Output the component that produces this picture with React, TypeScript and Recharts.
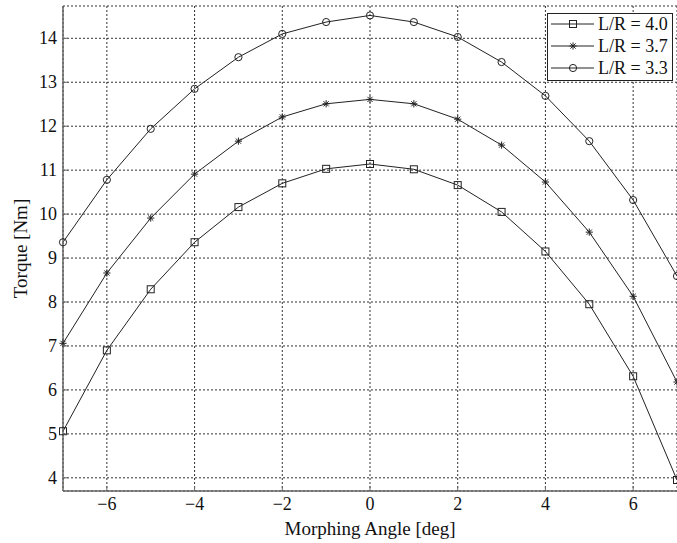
import React from 'react';
import { LineChart, Line, XAxis, YAxis, CartesianGrid, Legend, Label } from 'recharts';

// Morphing angle in degrees
const angles = [-7, -6, -5, -4, -3, -2, -1, 0, 1, 2, 3, 4, 5, 6, 7];

// Torque [Nm] for each length/radius ratio
const torqueLR40 = [5.06, 6.9, 8.29, 9.36, 10.16, 10.7, 11.03, 11.14, 11.02, 10.66, 10.05, 9.15, 7.95, 6.31, 3.95];
const torqueLR37 = [7.06, 8.66, 9.91, 10.91, 11.66, 12.21, 12.51, 12.61, 12.51, 12.16, 11.57, 10.73, 9.59, 8.13, 6.18];
const torqueLR33 = [9.36, 10.78, 11.94, 12.85, 13.57, 14.1, 14.37, 14.52, 14.37, 14.03, 13.46, 12.69, 11.66, 10.32, 8.59];

const xTicks = [-6, -4, -2, 0, 2, 4, 6];
const yTicks = [4, 5, 6, 7, 8, 9, 10, 11, 12, 13, 14];

const seriesOrder = ['lr40', 'lr37', 'lr33'];
const seriesNames = { lr40: 'L/R = 4.0', lr37: 'L/R = 3.7', lr33: 'L/R = 3.3' };

const rows = angles.map((a, i) => ({
  angle: a,
  lr40: torqueLR40[i],
  lr37: torqueLR37[i],
  lr33: torqueLR33[i],
}));

const FONT = '"Liberation Serif", "Times New Roman", serif';
const TICK_FS = 18;
const TITLE_FS = 19;
const LEGEND_FS = 18;
const INK = '#222';
const AXIS = '#666';

const fmt = (v: number) => (v < 0 ? '\u2212' + Math.abs(v) : String(v));

type MarkerKind = 'square' | 'star' | 'circle';

function Marker({ kind, cx, cy }: { kind: MarkerKind; cx: number; cy: number }) {
  if (kind === 'square') {
    return <rect x={cx - 3.5} y={cy - 3.5} width={7} height={7} fill="none" stroke={INK} strokeWidth={1} />;
  }
  if (kind === 'circle') {
    return <circle cx={cx} cy={cy} r={3.6} fill="none" stroke={INK} strokeWidth={1} />;
  }
  const r = 3.6;
  const d = r * 0.72;
  return (
    <g stroke={INK} strokeWidth={1}>
      <line x1={cx - r} y1={cy} x2={cx + r} y2={cy} />
      <line x1={cx} y1={cy - r} x2={cx} y2={cy + r} />
      <line x1={cx - d} y1={cy - d} x2={cx + d} y2={cy + d} />
      <line x1={cx - d} y1={cy + d} x2={cx + d} y2={cy - d} />
    </g>
  );
}

const makeDot = (kind: MarkerKind) => (props: any) => {
  const { cx, cy, index } = props;
  if (cx == null || cy == null) return <g key={`${kind}-${index}`} />;
  return (
    <g key={`${kind}-${index}`}>
      <Marker kind={kind} cx={cx} cy={cy} />
    </g>
  );
};

const BottomTick = (props: any) => {
  const { x, y, payload } = props;
  return (
    <g>
      <line x1={x} y1={y} x2={x} y2={y - 5} stroke={AXIS} strokeWidth={1} />
      <text x={x} y={y + 19} textAnchor="middle" fontFamily={FONT} fontSize={TICK_FS} fill="#111">
        {fmt(payload.value)}
      </text>
    </g>
  );
};

const TopTick = (props: any) => {
  const { x, y } = props;
  return <line x1={x} y1={y} x2={x} y2={y + 5} stroke={AXIS} strokeWidth={1} />;
};

const LeftTick = (props: any) => {
  const { x, y, payload } = props;
  return (
    <g>
      <line x1={x} y1={y} x2={x + 5} y2={y} stroke={AXIS} strokeWidth={1} />
      <text x={x - 6} y={y + 6} textAnchor="end" fontFamily={FONT} fontSize={TICK_FS} fill="#111">
        {fmt(payload.value)}
      </text>
    </g>
  );
};

const XTitle = (props: any) => {
  const vb = props.viewBox || {};
  return (
    <text x={vb.x + vb.width / 2} y={vb.y + 44} textAnchor="middle" fontFamily={FONT} fontSize={TITLE_FS} fill="#111">
      Morphing Angle [deg]
    </text>
  );
};

const YTitle = (props: any) => {
  const vb = props.viewBox || {};
  const cx = 27;
  const cy = vb.y + vb.height / 2;
  return (
    <text
      x={cx}
      y={cy}
      transform={`rotate(-90, ${cx}, ${cy})`}
      textAnchor="middle"
      fontFamily={FONT}
      fontSize={TITLE_FS}
      fill="#111"
    >
      Torque [Nm]
    </text>
  );
};

const legendKinds: Record<string, MarkerKind> = { lr40: 'square', lr37: 'star', lr33: 'circle' };

const LegendBox = (props: any) => {
  const payload = [...(props.payload || [])].sort(
    (a: any, b: any) => seriesOrder.indexOf(String(a.dataKey)) - seriesOrder.indexOf(String(b.dataKey)),
  );
  return (
    <svg width={127} height={69} style={{ display: 'block' }}>
      <rect x={0.5} y={0.5} width={125} height={67} fill="#fff" stroke={INK} strokeWidth={1} />
      {payload.map((entry: any, i: number) => {
        const yy = 11 + i * 22;
        const kind = legendKinds[entry.dataKey as string] || 'square';
        return (
          <g key={String(entry.dataKey)}>
            <line x1={4} y1={yy} x2={47} y2={yy} stroke={INK} strokeWidth={1} />
            <Marker kind={kind} cx={26} cy={yy} />
            <text x={51} y={yy + 6} fontFamily={FONT} fontSize={LEGEND_FS} fill="#111">
              {entry.value}
            </text>
          </g>
        );
      })}
    </svg>
  );
};

export default function App() {
  return (
    <div style={{ position: 'absolute', left: 0, top: 0, width: 677, height: 543, background: '#fff' }}>
      <LineChart width={677} height={543} data={rows} margin={{ top: 6, right: 0, bottom: 0, left: 0 }}>
        <CartesianGrid stroke="#333" strokeDasharray="2 2" strokeWidth={1} />
        <XAxis
          dataKey="angle"
          type="number"
          domain={[-7, 7]}
          ticks={xTicks}
          interval={0}
          height={52}
          tickSize={0}
          tickMargin={0}
          tickLine={false}
          tick={<BottomTick />}
          stroke={AXIS}
          strokeWidth={1.5}
        >
          <Label content={<XTitle />} />
        </XAxis>
        <XAxis
          xAxisId="top"
          dataKey="angle"
          type="number"
          orientation="top"
          domain={[-7, 7]}
          ticks={xTicks}
          interval={0}
          height={0}
          tickSize={0}
          tickMargin={0}
          tickLine={false}
          tick={<TopTick />}
          stroke={AXIS}
          strokeWidth={1.5}
        />
        <YAxis
          type="number"
          domain={[3.7, 14.735]}
          ticks={yTicks}
          interval={0}
          width={63}
          tickSize={0}
          tickMargin={0}
          tickLine={false}
          tick={<LeftTick />}
          stroke={AXIS}
          strokeWidth={1.5}
          allowDataOverflow
        >
          <Label content={<YTitle />} />
        </YAxis>
        <Legend
          layout="horizontal"
          verticalAlign="middle"
          align="center"
          itemSorter={null as any}
          content={<LegendBox />}
          wrapperStyle={{ left: 547, top: 13, width: 127, height: 69 }}
        />
        <Line
          dataKey="lr40"
          name={seriesNames.lr40}
          stroke={INK}
          strokeWidth={1}
          dot={makeDot('square')}
          activeDot={false}
          isAnimationActive={false}
        />
        <Line
          dataKey="lr37"
          name={seriesNames.lr37}
          stroke={INK}
          strokeWidth={1}
          dot={makeDot('star')}
          activeDot={false}
          isAnimationActive={false}
        />
        <Line
          dataKey="lr33"
          name={seriesNames.lr33}
          stroke={INK}
          strokeWidth={1}
          dot={makeDot('circle')}
          activeDot={false}
          isAnimationActive={false}
        />
      </LineChart>
    </div>
  );
}
